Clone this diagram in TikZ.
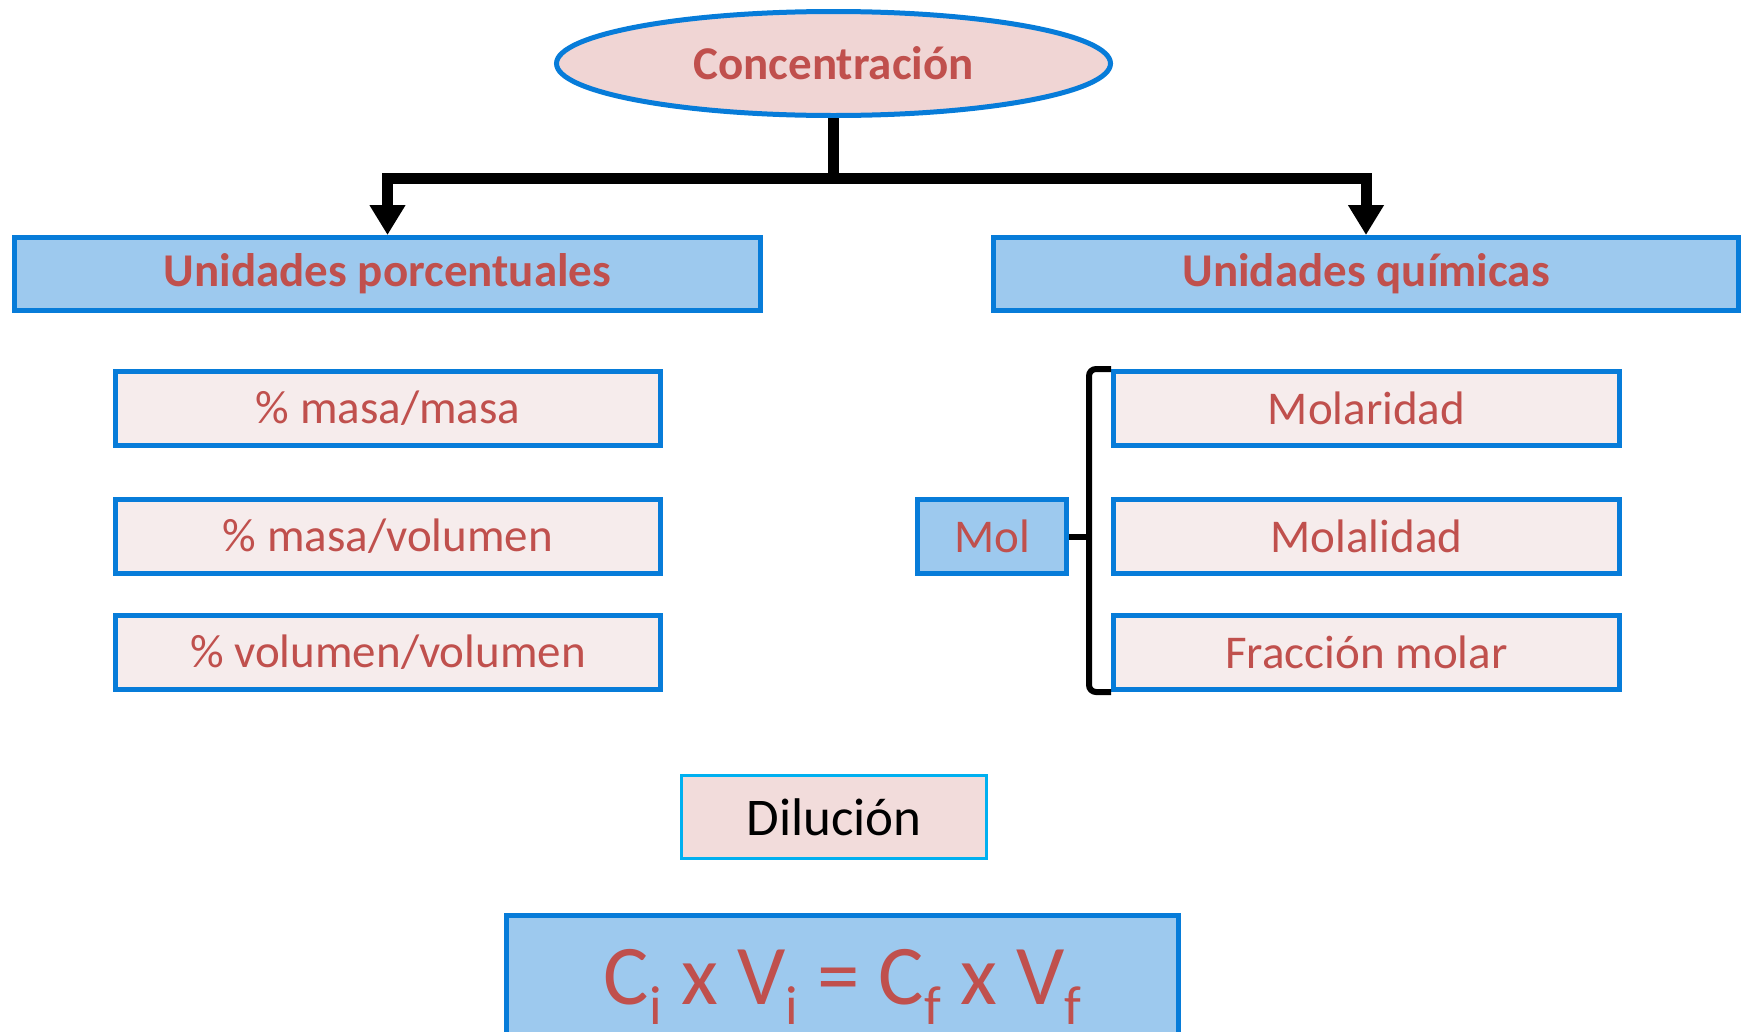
\documentclass[tikz,border=0pt]{standalone}
\usepackage{fontspec}
\setmainfont{Carlito}
\usepackage{tikz}
\usetikzlibrary{shapes.geometric, arrows.meta, positioning, calc}
\definecolor{boxblue}{RGB}{7, 124, 217}
\definecolor{skyfill}{RGB}{157, 201, 238}
\definecolor{rosefill}{RGB}{246, 236, 236}
\definecolor{ovalfill}{RGB}{240, 213, 212}
\definecolor{dilfill}{RGB}{242, 220, 219}
\definecolor{dilcyan}{RGB}{0, 176, 240}
\definecolor{textred}{RGB}{192, 80, 77}
\newcommand{\subtxt}[1]{\raisebox{-20pt}{\fontsize{55}{55}\selectfont #1}}

\begin{document}
\begin{tikzpicture}[x=1pt, y=-1pt,
    headbox/.style={draw=boxblue, line width=5pt, fill=skyfill, minimum height=73pt,
        inner sep=0pt, text=textred, font=\fontsize{47}{56}\selectfont\bfseries},
    subbox/.style={draw=boxblue, line width=5pt, fill=rosefill, minimum height=74pt,
        inner sep=0pt, text=textred, font=\fontsize{47}{56}\selectfont},
    trunk/.style={line width=11pt, black},
    bracket/.style={line width=6pt, black, rounded corners=7pt}]
    \useasboundingbox (0,0) rectangle (1748,1031);

    % Top oval
    \node[ellipse, draw=boxblue, line width=5pt, fill=ovalfill, minimum width=554pt,
        minimum height=104pt, inner sep=0pt, text=textred,
        font=\fontsize{47}{56}\selectfont\bfseries] (conc) at (833.5,63.5) {Concentración};

    % The two families
    \node[headbox, minimum width=746pt] (porc) at (387.5,274) {Unidades porcentuales};
    \node[headbox, minimum width=745pt] (quim) at (1366,274) {Unidades químicas};

    % Tree arrows
    \draw[trunk] (conc.south) -- ++(0,60.5) coordinate (fork);
    \draw[trunk, -{Triangle[width=34pt, length=30pt]}] (fork) -| (porc.north);
    \draw[trunk, -{Triangle[width=34pt, length=30pt]}] (fork) -| (quim.north);

    % Percent units
    \foreach \i/\y/\txt in {1/408.5/{\% masa/masa}, 2/536.5/{\% masa/volumen}, 3/652.5/{\% volumen/volumen}}
        \node[subbox, minimum width=545pt] (pc\i) at (388,\y) {\txt};

    % Chemical units
    \foreach \i/\y/\txt in {1/408.5/Molaridad, 2/536.5/Molalidad, 3/652.5/Fracción molar}
        \node[subbox, minimum width=506pt] (qm\i) at (1366.5,\y) {\txt};

    % Mol and its bracket
    \node[headbox, minimum width=149pt, minimum height=74pt, font=\fontsize{47}{56}\selectfont] (mol) at (992,536.5) {Mol};
    \coordinate (brk) at ([xshift=-22pt]qm1.north west);
    \draw[bracket] (qm1.north west) -- (brk) |- (qm3.south west);
    \draw[bracket] (mol.east) -- (mol.east -| brk);

    % Dilution
    \node[draw=dilcyan, line width=3.5pt, fill=dilfill, minimum width=305pt, minimum height=83pt,
        inner sep=0pt, font=\fontsize{53}{60}\selectfont] (dil) at (834,817) {Dilución};

    % Formula (runs off the bottom edge)
    \node[draw=boxblue, line width=5pt, fill=skyfill, anchor=north, minimum width=672pt,
        inner sep=0pt, text height=89.5pt, text depth=60pt, text=textred,
        font=\fontsize{85}{90}\selectfont] (form) at (842.5,912.5)
        {C\subtxt{i} x V\subtxt{i} = C\subtxt{f} x V\subtxt{f}};
\end{tikzpicture}
\end{document}
